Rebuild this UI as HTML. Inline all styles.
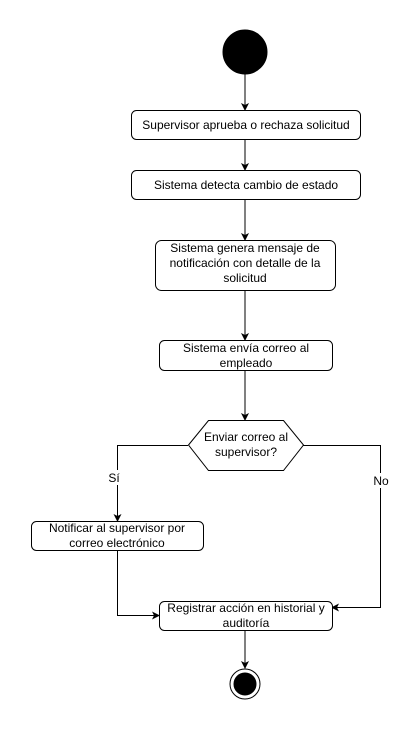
<!DOCTYPE html>
<html><head><meta charset="utf-8"><style>
html,body{margin:0;padding:0;background:#fff;}
svg{display:block;}
text{font-family:"Liberation Sans",Arial,sans-serif;font-size:12px;fill:#000;}
</style></head><body>
<svg width="419" height="731" viewBox="0 0 419 731" xmlns="http://www.w3.org/2000/svg">
<defs><marker id="a" markerWidth="8" markerHeight="8" refX="7" refY="4" orient="auto" markerUnits="userSpaceOnUse"><path d="M0,0 L8,4 L0,8 L2,4 z" fill="#000"/></marker></defs>
<g fill="none" stroke="#000" stroke-width="1">
<circle cx="245" cy="52" r="22" fill="#000"/>
<line x1="245" y1="74" x2="245" y2="110" marker-end="url(#a)"/>
<rect x="131.5" y="110.5" width="229" height="29" rx="5" fill="#fff"/>
<line x1="245" y1="140" x2="245" y2="170" marker-end="url(#a)"/>
<rect x="131.5" y="170.5" width="229" height="29" rx="5" fill="#fff"/>
<line x1="245" y1="200" x2="245" y2="240" marker-end="url(#a)"/>
<rect x="155.5" y="240.5" width="180" height="50" rx="6" fill="#fff"/>
<line x1="245" y1="291" x2="245" y2="340" marker-end="url(#a)"/>
<rect x="159.5" y="340.5" width="173" height="30" rx="5" fill="#fff"/>
<line x1="245" y1="371" x2="245" y2="420" marker-end="url(#a)"/>
<polygon points="188.5,445 208.5,420.5 283.5,420.5 303.5,445 283.5,470.5 208.5,470.5" fill="#fff"/>
<polyline points="188,445.5 117.5,445.5 117.5,521" marker-end="url(#a)"/>
<polyline points="303,445.5 380.5,445.5 380.5,607.5 332,607.5" marker-end="url(#a)"/>
<rect x="31.5" y="521.5" width="172" height="29" rx="5" fill="#fff"/>
<polyline points="117.5,551 117.5,615.5 159,615.5" marker-end="url(#a)"/>
<rect x="159.5" y="601.5" width="173" height="29" rx="5" fill="#fff"/>
<line x1="245" y1="631" x2="245" y2="668" marker-end="url(#a)"/>
<circle cx="245" cy="684" r="15" fill="#fff"/>
<circle cx="245" cy="684" r="11" fill="#000"/>
</g>
<rect x="108" y="470" width="20" height="15" fill="#fff"/>
<rect x="372" y="473" width="18" height="15" fill="#fff"/>
<g text-anchor="middle">
<text x="246" y="129">Supervisor aprueba o rechaza solicitud</text>
<text x="246" y="189">Sistema detecta cambio de estado</text>
<text x="245" y="252">Sistema genera mensaje de</text>
<text x="245" y="267">notificación con detalle de la</text>
<text x="245" y="282">solicitud</text>
<text x="246" y="352">Sistema envía correo al</text>
<text x="246" y="367">empleado</text>
<text x="246" y="441">Enviar correo al</text>
<text x="246" y="456">supervisor?</text>
<text x="114" y="482">Sí</text>
<text x="381" y="485">No</text>
<text x="117" y="532">Notificar al supervisor por</text>
<text x="117" y="547">correo electrónico</text>
<text x="246" y="612">Registrar acción en historial y</text>
<text x="246" y="627">auditoría</text>
</g>
</svg>
</body></html>
